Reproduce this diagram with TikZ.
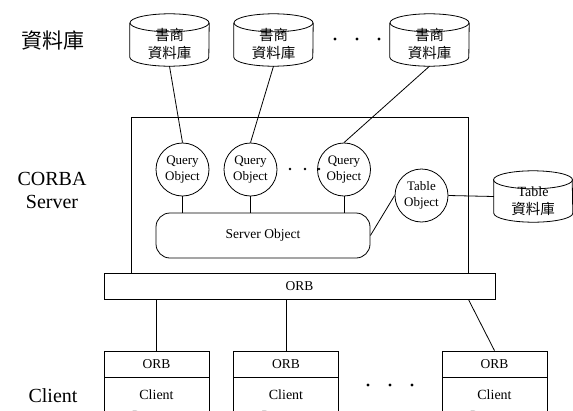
\documentclass[tikz,border=0pt]{standalone}
\usepackage{fontspec}
\setmainfont{Liberation Serif}
\newfontfamily\cjk{Noto Sans CJK TC}

% database cylinder drawn round a named (invisible) box node
\newcommand\dbdraw[1]{%
  \draw[line] ([yshift=-9pt]#1.north west) -- ([yshift=9pt]#1.south west)
    arc[start angle=180, end angle=360, x radius=39.5pt, y radius=9pt]
    -- ([yshift=-9pt]#1.north east);
  \draw[line] ([yshift=-9pt]#1.north) ellipse[x radius=39.5pt, y radius=9pt];}

\begin{document}
\begin{tikzpicture}[x=1pt, y=-1pt,
  line/.style={draw=black, line width=0.8pt},
  dbbox/.style={rectangle, minimum width=79pt, minimum height=52pt, inner sep=0pt},
  dbtext/.style={align=center, inner sep=0pt, font=\fontsize{14.5}{18}\selectfont},
  qobj/.style={circle, line, minimum size=53pt, inner sep=0pt, align=center,
    font=\fontsize{13}{16}\selectfont},
  orbhead/.style={rectangle, line, minimum width=105pt, minimum height=26pt,
    inner sep=0pt, font=\fontsize{13.5}{16}\selectfont},
  clbody/.style={rectangle, line, anchor=north, minimum width=105pt,
    minimum height=70pt, inner sep=0pt},
  cltext/.style={anchor=north, align=center, inner sep=0pt,
    font=\fontsize{14}{21}\selectfont},
  dot/.style={fill=black}]
\useasboundingbox (0,0) rectangle (573,410);
\clip (0,0) rectangle (573,410);

% side captions
\node[font=\cjk\fontsize{21}{24}\selectfont] (lbldb) at (53,40) {資料庫};
\node[align=center, font=\fontsize{20}{23}\selectfont] (lblsrv) at (52,190) {CORBA\\Server};
\node[font=\fontsize{20}{24}\selectfont] (lblcl) at (53,396) {Client};

% bookstore databases
\node[dbbox] (db1) at (169.5,40) {};
\node[dbbox] (db2) at (273.5,40) {};
\node[dbbox] (db3) at (429.5,40) {};
\dbdraw{db1}\dbdraw{db2}\dbdraw{db3}
\node[dbtext] (db1t) at ([yshift=-4pt]db1.center) {\cjk 書商\\\cjk 資料庫};
\node[dbtext] (db2t) at ([yshift=-4pt]db2.center) {\cjk 書商\\\cjk 資料庫};
\node[dbtext] (db3t) at ([yshift=-4pt]db3.center) {\cjk 書商\\\cjk 資料庫};
\foreach \x in {335,357,379} \fill[dot] (\x,39) circle[radius=1.7pt];

% CORBA server
\node[rectangle, line, minimum width=337pt, minimum height=156pt, inner sep=0pt] (server) at (299.5,195) {};
\node[qobj] (q1) at (182.5,169.5) {Query\\Object};
\node[qobj] (q2) at (250.5,169.5) {Query\\Object};
\node[qobj] (q3) at (344,169.5) {Query\\Object};
\foreach \x in {290,305,319} \fill[dot] (\x,169) circle[radius=1.4pt];
\node[rectangle, line, rounded corners=14pt, minimum width=214pt, minimum height=45pt,
  font=\fontsize{13.5}{16}\selectfont] (so) at (263,235.5) {Server Object};
\node[qobj] (tobj) at (421.5,195.5) {Table\\Object};

% table database
\node[dbbox, minimum width=78pt, minimum height=51pt] (tdb) at (533,196.5) {};
\dbdraw{tdb}
\node[dbtext] (tdbt) at ([yshift=-4.5pt]tdb.center) {{\fontsize{14}{18}\selectfont Table}\\\cjk 資料庫};

% ORB bus
\node[rectangle, line, minimum width=391pt, minimum height=26pt, inner sep=0pt,
  font=\fontsize{13.5}{16}\selectfont] (orb) at (299.5,286) {ORB};

% clients
\node[orbhead] (c1h) at (156.5,364) {ORB};
\node[orbhead] (c2h) at (286,364) {ORB};
\node[orbhead] (c3h) at (494.5,364) {ORB};
\node[clbody] (c1b) at (c1h.south) {};
\node[clbody] (c2b) at (c2h.south) {};
\node[clbody] (c3b) at (c3h.south) {};
\node[cltext] (c1t) at ([yshift=-12pt]c1b.north) {Client\\Program};
\node[cltext] (c2t) at ([yshift=-12pt]c2b.north) {Client\\Program};
\node[cltext] (c3t) at ([yshift=-12pt]c3b.north) {Client\\Program};
\foreach \x in {368,390,412} \fill[dot] (\x,385) circle[radius=1.7pt];

% connectors
\draw[line] (db1.south) -- (q1.north);
\draw[line] (db2.south) -- (q2.north);
\draw[line] (db3.south) -- (q3.north);
\draw[line] (q1.south) -- (q1.south |- so.north);
\draw[line] (q2.south) -- (q2.south |- so.north);
\draw[line] (q3.south) -- (q3.south |- so.north);
\draw[line] (so.east) -- (tobj.west);
\draw[line] (tobj.east) -- (tdb.west);
\draw[line] (orb.south -| c1h.north) -- (c1h.north);
\draw[line] (orb.south -| c2h.north) -- (c2h.north);
\draw[line] (orb.south -| server.east) -- (c3h.north);
\end{tikzpicture}
\end{document}
